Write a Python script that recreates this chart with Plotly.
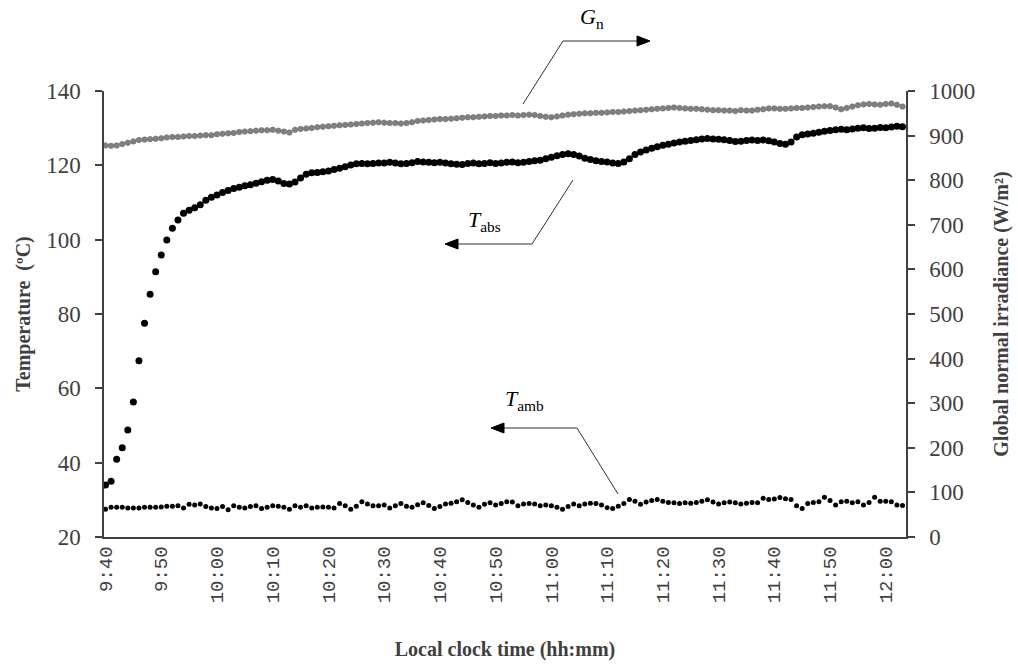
import plotly.graph_objects as go

# Minutes after 9:40, one reading per minute (9:40 -> 12:03)
minutes = list(range(144))

# Tick labels every 10 minutes
tick_minutes = [0, 10, 20, 30, 40, 50, 60, 70, 80, 90, 100, 110, 120, 130, 140]
tick_labels = ["9:40", "9:50", "10:00", "10:10", "10:20", "10:30", "10:40", "10:50",
               "11:00", "11:10", "11:20", "11:30", "11:40", "11:50", "12:00"]

# Absorber temperature (°C)
t_abs = [
    34.0, 35.0, 40.9, 44.0, 48.8, 56.3, 67.4, 77.5, 85.3, 91.4,
    95.9, 99.9, 103.1, 105.3, 107.1, 107.9, 108.6, 109.4, 110.6, 111.4,
    112.0, 112.7, 113.2, 113.8, 114.1, 114.5, 114.8, 115.2, 115.6, 116.0,
    116.2, 115.8, 115.1, 115.0, 115.5, 116.6, 117.6, 118.0, 118.1, 118.3,
    118.5, 118.9, 119.2, 119.6, 120.1, 120.4, 120.5, 120.4, 120.5, 120.6,
    120.6, 120.8, 120.6, 120.4, 120.5, 120.7, 121.0, 120.9, 120.8, 120.7,
    120.8, 120.6, 120.4, 120.3, 120.2, 120.5, 120.6, 120.4, 120.5, 120.7,
    120.5, 120.6, 120.8, 120.9, 120.7, 120.8, 121.0, 121.2, 121.4, 121.8,
    122.2, 122.6, 122.9, 123.1, 122.9, 122.5, 121.9, 121.6, 121.2, 121.0,
    120.9, 120.6, 120.5, 120.9, 121.8, 122.9, 123.6, 124.1, 124.6, 125.0,
    125.4, 125.7, 126.0, 126.3, 126.5, 126.7, 126.9, 127.1, 127.2, 127.1,
    127.0, 126.9, 126.7, 126.4, 126.5, 126.7, 126.8, 126.7, 126.8, 126.6,
    126.3, 125.9, 125.7, 126.3, 127.6, 128.2, 128.4, 128.6, 128.9, 129.2,
    129.4, 129.6, 129.7, 129.6, 129.8, 130.0, 130.1, 129.9, 130.0, 130.2,
    130.1, 130.3, 130.5, 130.4,
]

# Ambient temperature (°C)
t_amb = [
    27.5, 28.0, 28.0, 28.0, 27.8, 27.8, 27.8, 28.0, 28.0, 28.0,
    28.1, 28.3, 28.3, 28.4, 27.8, 28.8, 28.6, 28.9, 28.2, 27.8,
    27.7, 28.2, 27.3, 28.4, 28.0, 27.8, 28.2, 28.4, 27.7, 28.0,
    28.4, 28.3, 28.0, 27.5, 28.4, 28.0, 28.4, 27.8, 28.0, 28.1,
    28.0, 27.8, 29.0, 28.4, 27.5, 28.3, 29.5, 28.9, 28.4, 28.4,
    28.6, 27.8, 28.4, 29.0, 28.3, 28.0, 28.7, 29.2, 28.5, 27.7,
    28.2, 28.9, 29.1, 29.5, 30.0, 29.3, 28.6, 28.0, 28.8, 29.2,
    28.6, 29.0, 29.5, 29.4, 28.4, 28.9, 29.0, 28.9, 28.4, 28.6,
    28.4, 28.0, 27.5, 28.2, 28.9, 28.4, 28.9, 29.1, 29.0, 28.6,
    27.9, 27.7, 28.3, 29.0, 30.1, 29.6, 28.8, 29.4, 29.8, 30.1,
    29.6, 29.3, 29.2, 29.0, 29.2, 29.1, 29.3, 29.6, 30.0, 29.4,
    28.9, 29.2, 29.4, 29.2, 28.9, 29.1, 29.3, 29.2, 30.4, 30.1,
    30.2, 30.6, 30.3, 30.1, 28.4, 27.7, 29.0, 29.3, 29.5, 30.7,
    29.8, 28.6, 29.5, 29.6, 29.2, 29.5, 28.6, 29.3, 30.7, 29.6,
    29.6, 29.5, 28.6, 28.5,
]

# Global normal irradiance (W/m²)
g_n = [
    878, 877, 878, 881, 884, 887, 890, 891, 892, 893,
    894, 896, 897, 897, 898, 899, 899, 900, 901, 901,
    903, 904, 905, 906, 908, 909, 910, 911, 912, 912,
    913, 911, 909, 907, 913, 915, 916, 917, 919, 920,
    921, 922, 923, 924, 925, 926, 927, 928, 929, 930,
    929, 928, 928, 927, 928, 930, 933, 934, 935, 936,
    937, 937, 938, 939, 940, 941, 941, 942, 943, 944,
    944, 945, 945, 946, 945, 946, 947, 946, 944, 942,
    941, 943, 945, 947, 948, 949, 950, 950, 951, 951,
    952, 953, 953, 954, 955, 956, 957, 958, 959, 960,
    961, 962, 963, 962, 961, 960, 960, 959, 958, 957,
    957, 956, 956, 955, 957, 956, 956, 958, 959, 961,
    961, 960, 960, 961, 962, 962, 963, 964, 965, 966,
    966, 963, 959, 962, 965, 968, 970, 971, 970, 969,
    971, 972, 969, 965,
]

SERIF = "Liberation Serif"
TXT = "#404040"
LINE = "#404040"

# Plot area in pixels (used to place the call-out geometry in paper units)
L, R, T, B = 104, 906, 91, 537


def paper(px, py):
    return (px - L) / (R - L), (B - py) / (B - T)


fig = go.Figure()

fig.add_trace(go.Scatter(
    x=minutes, y=g_n, yaxis="y2", mode="markers", name="G_n",
    marker=dict(size=5.5, color="#808080", line=dict(width=0.6, color="#6a6a6a")),
))
fig.add_trace(go.Scatter(
    x=minutes, y=t_abs, mode="markers", name="T_abs",
    marker=dict(size=7, color="#000000"),
))
fig.add_trace(go.Scatter(
    x=minutes, y=t_amb, mode="markers", name="T_amb",
    marker=dict(size=5, color="#000000"),
))

fig.update_layout(
    width=1018, height=667,
    margin=dict(l=L, r=1018 - R, t=T, b=667 - B),
    paper_bgcolor="white", plot_bgcolor="white",
    showlegend=False,
    xaxis=dict(
        range=[-0.27, 143.63], automargin=False,
        tickmode="array", tickvals=tick_minutes, ticktext=tick_labels,
        tickangle=-90, ticks="",
        tickfont=dict(family="Liberation Mono", size=19, color=TXT),
        showgrid=False, zeroline=False,
        showline=True, linecolor=LINE, linewidth=1.5,
        title=dict(text="<b>Local clock time (hh:mm)</b>", standoff=40,
                   font=dict(family=SERIF, size=20, color=TXT)),
    ),
    yaxis=dict(
        range=[20, 140], automargin=False,
        tickvals=[20, 40, 60, 80, 100, 120, 140],
        ticks="outside", ticklen=7, tickwidth=1.5, tickcolor=LINE,
        ticklabelstandoff=10,
        tickfont=dict(family=SERIF, size=23, color=TXT),
        showgrid=False, zeroline=False,
        showline=True, linecolor=LINE, linewidth=1.5,
        title=dict(text="<b>Temperature\u00a0 (ºC)</b>", standoff=10,
                   font=dict(family=SERIF, size=20, color=TXT)),
    ),
    yaxis2=dict(
        range=[0, 1000], automargin=False,
        tickvals=[0, 100, 200, 300, 400, 500, 600, 700, 800, 900, 1000],
        overlaying="y", side="right", anchor="x",
        ticks="outside", ticklen=7, tickwidth=1.5, tickcolor=LINE,
        ticklabelstandoff=10,
        tickfont=dict(family=SERIF, size=23, color=TXT),
        showgrid=False, zeroline=False,
        showline=True, linecolor=LINE, linewidth=1.5,
        title=dict(text="<b>Global normal irradiance (W/m²)</b>", standoff=20,
                   font=dict(family=SERIF, size=20, color=TXT)),
    ),
)

# Call-outs: slanted leader, horizontal shaft, arrowhead (pixel points)
callouts = [
    # (leader start, elbow, arrow tip, direction)
    ((523, 104), (563, 41), (650, 41), 1),     # G_n -> right axis
    ((573, 180), (532, 244), (445, 244), -1),  # T_abs -> left axis
    ((618, 494), (577, 428), (491, 428), -1),  # T_amb -> left axis
]
for (sx, sy), (ex, ey), (tx, ty), d in callouts:
    x0, y0 = paper(sx, sy)
    x1, y1 = paper(ex, ey)
    x2, y2 = paper(tx - d * 10, ty)
    fig.add_shape(type="path", xref="paper", yref="paper",
                  path=f"M {x0} {y0} L {x1} {y1} L {x2} {y2}",
                  line=dict(color="#303030", width=1))
    hx, hy = paper(tx, ty)
    bx, by_top = paper(tx - d * 13, ty - 5)
    _, by_bot = paper(tx - d * 13, ty + 5)
    fig.add_shape(type="path", xref="paper", yref="paper",
                  path=f"M {hx} {hy} L {bx} {by_top} L {bx} {by_bot} Z",
                  fillcolor="#000000", line=dict(color="#000000", width=1))

labels = [
    ((592, 18), "<i>G</i><sub>n</sub>"),
    ((484, 221), "<i>T</i><sub>abs</sub>"),
    ((524, 400), "<i>T</i><sub>amb</sub>"),
]
for (px, py), t in labels:
    x, y = paper(px, py)
    fig.add_annotation(x=x, y=y, xref="paper", yref="paper", text=t,
                       xanchor="center", yanchor="middle", showarrow=False,
                       font=dict(family=SERIF, size=22, color="#000000"))

fig.write_html("out.html")
